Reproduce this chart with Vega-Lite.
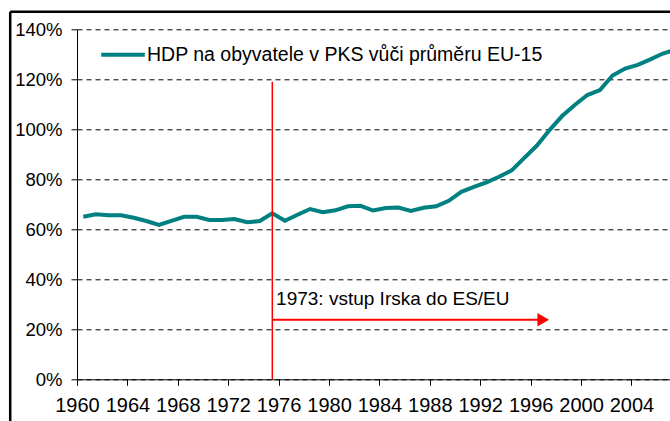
{
  "$schema": "https://vega.github.io/schema/vega-lite/v6.json",
  "width": 593,
  "height": 350,
  "autosize": {"type": "none"},
  "padding": {"left": 77, "top": 29.3, "right": 0, "bottom": 41.7},
  "background": "white",
  "config": {
    "font": "Liberation Sans",
    "view": {"stroke": null},
    "axis": {"labelFont": "Liberation Sans", "labelColor": "black", "domainColor": "black", "tickColor": "black"}
  },
  "datasets": {
    "gdp": [
      {"year": 1960, "value": 65.0}, {"year": 1961, "value": 66.0}, {"year": 1962, "value": 65.6},
      {"year": 1963, "value": 65.6}, {"year": 1964, "value": 64.6}, {"year": 1965, "value": 63.3},
      {"year": 1966, "value": 61.8}, {"year": 1967, "value": 63.4}, {"year": 1968, "value": 65.0},
      {"year": 1969, "value": 65.0}, {"year": 1970, "value": 63.7}, {"year": 1971, "value": 63.7},
      {"year": 1972, "value": 64.1}, {"year": 1973, "value": 62.8}, {"year": 1974, "value": 63.3},
      {"year": 1975, "value": 66.4}, {"year": 1976, "value": 63.4}, {"year": 1977, "value": 65.8},
      {"year": 1978, "value": 68.1}, {"year": 1979, "value": 66.8}, {"year": 1980, "value": 67.6},
      {"year": 1981, "value": 69.2}, {"year": 1982, "value": 69.4}, {"year": 1983, "value": 67.5},
      {"year": 1984, "value": 68.5}, {"year": 1985, "value": 68.7}, {"year": 1986, "value": 67.3},
      {"year": 1987, "value": 68.6}, {"year": 1988, "value": 69.2}, {"year": 1989, "value": 71.4},
      {"year": 1990, "value": 75.0}, {"year": 1991, "value": 77.0}, {"year": 1992, "value": 78.8},
      {"year": 1993, "value": 81.0}, {"year": 1994, "value": 83.6}, {"year": 1995, "value": 88.6},
      {"year": 1996, "value": 93.5}, {"year": 1997, "value": 99.7}, {"year": 1998, "value": 105.3},
      {"year": 1999, "value": 109.7}, {"year": 2000, "value": 113.7}, {"year": 2001, "value": 115.7},
      {"year": 2002, "value": 121.5}, {"year": 2003, "value": 124.3}, {"year": 2004, "value": 125.8},
      {"year": 2005, "value": 128.0}, {"year": 2006, "value": 130.3}, {"year": 2007, "value": 131.8}
    ],
    "event": [{"label": "1973: vstup Irska do ES/EU"}]
  },
  "layer": [
    {
      "data": {"name": "event"},
      "mark": {"type": "rule", "color": "black", "strokeWidth": 2.5, "clip": false},
      "encoding": {
        "x": {"datum": 1954.2, "type": "quantitative"},
        "y": {"datum": -20, "type": "quantitative"},
        "y2": {"datum": 147}
      }
    },
    {
      "data": {"name": "event"},
      "mark": {"type": "rule", "color": "black", "strokeWidth": 2.5, "clip": false},
      "encoding": {
        "x": {"datum": 1954.2, "type": "quantitative"},
        "x2": {"datum": 2015},
        "y": {"datum": 147, "type": "quantitative"}
      }
    },
    {
      "data": {"name": "gdp"},
      "mark": {"type": "line", "strokeWidth": 4, "clip": true},
      "encoding": {
        "x": {
          "field": "year", "type": "quantitative",
          "scale": {"domain": [1959.5, 2006.56], "nice": false, "zero": false},
          "axis": {
            "title": null,
            "values": [1959.5,1960.5,1961.5,1962.5,1963.5,1964.5,1965.5,1966.5,1967.5,1968.5,1969.5,1970.5,1971.5,1972.5,1973.5,1974.5,1975.5,1976.5,1977.5,1978.5,1979.5,1980.5,1981.5,1982.5,1983.5,1984.5,1985.5,1986.5,1987.5,1988.5,1989.5,1990.5,1991.5,1992.5,1993.5,1994.5,1995.5,1996.5,1997.5,1998.5,1999.5,2000.5,2001.5,2002.5,2003.5,2004.5,2005.5,2006.5],
            "labelExpr": "datum.value % 4 == 3.5 ? format(datum.value + 0.5, 'd') : ''",
            "labelDx": 18,
            "labelOverlap": false,
            "labelBound": false,
            "labelFlush": false,
            "labelFontSize": 20,
            "labelPadding": 10.5,
            "tickSize": 6,
            "grid": false,
            "domainWidth": 1
          }
        },
        "y": {
          "field": "value", "type": "quantitative",
          "scale": {"domain": [0, 140], "nice": false},
          "axis": {
            "title": null,
            "values": [0, 20, 40, 60, 80, 100, 120, 140],
            "labelExpr": "datum.value + '%'",
            "labelFontSize": 18.5,
            "labelPadding": 9,
            "tickSize": 6,
            "grid": true,
            "gridColor": "black",
            "gridDash": [5, 4],
            "gridWidth": 1
          }
        },
        "color": {
          "datum": "HDP na obyvatele v PKS vůči průměru EU-15",
          "type": "nominal",
          "scale": {"range": ["#008080"]},
          "legend": {
            "title": null,
            "orient": "none",
            "legendX": 22,
            "legendY": 1.5,
            "symbolType": "stroke",
            "symbolSize": 1900,
            "symbolStrokeWidth": 4,
            "labelFontSize": 19.5,
            "labelFont": "Liberation Sans",
            "labelColor": "black",
            "labelOffset": 0,
            "labelLimit": 0,
            "padding": 0
          }
        }
      }
    },
    {
      "data": {"name": "event"},
      "mark": {"type": "rule", "color": "#ff0000", "strokeWidth": 1.5},
      "encoding": {
        "x": {"datum": 1975, "type": "quantitative"},
        "y": {"datum": 0, "type": "quantitative"},
        "y2": {"datum": 119}
      }
    },
    {
      "data": {"name": "event"},
      "mark": {"type": "rule", "color": "#ff0000", "strokeWidth": 2},
      "encoding": {
        "x": {"datum": 1975, "type": "quantitative"},
        "x2": {"datum": 1996.1},
        "y": {"datum": 23.8, "type": "quantitative"}
      }
    },
    {
      "data": {"name": "event"},
      "mark": {"type": "point", "shape": "triangle-right", "filled": true, "color": "#ff0000", "size": 180, "opacity": 1},
      "encoding": {
        "x": {"datum": 1996.5, "type": "quantitative"},
        "y": {"datum": 23.8, "type": "quantitative"}
      }
    },
    {
      "data": {"name": "event"},
      "mark": {"type": "text", "align": "left", "baseline": "middle", "fontSize": 19, "font": "Liberation Sans", "color": "black"},
      "encoding": {
        "x": {"datum": 1975.3, "type": "quantitative"},
        "y": {"datum": 32.1, "type": "quantitative"},
        "text": {"field": "label"}
      }
    }
  ]
}
